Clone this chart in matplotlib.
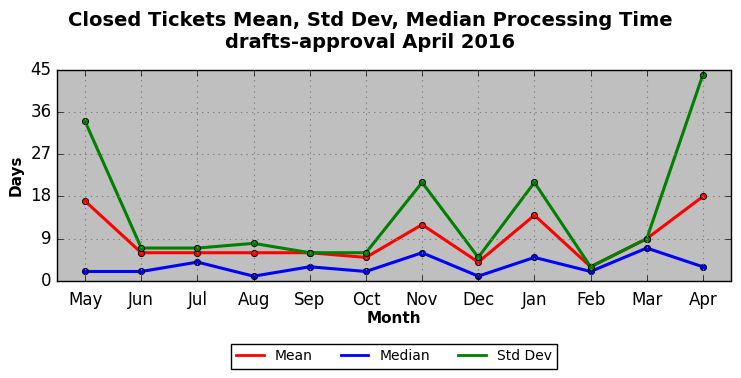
import matplotlib
matplotlib.use("Agg")
import matplotlib.pyplot as plt

months = ["May", "Jun", "Jul", "Aug", "Sep", "Oct", "Nov", "Dec", "Jan", "Feb", "Mar", "Apr"]
mean_days = [17, 6, 6, 6, 6, 5, 12, 4, 14, 3, 9, 18]
median_days = [2, 2, 4, 1, 3, 2, 6, 1, 5, 2, 7, 3]
std_days = [34, 7, 7, 8, 6, 6, 21, 5, 21, 3, 9, 44]

plt.style.use("classic")
fig = plt.figure(figsize=(7.41, 3.78), dpi=100, facecolor="white")
ax = fig.add_axes([0.077, 0.257, 0.9095, 0.558])
ax.set_facecolor("#bfbfbf")

x = list(range(len(months)))
ax.plot(x, mean_days, color="red", lw=2.2, marker="o", ms=4.5, mec="black", mew=0.6, label="Mean")
ax.plot(x, median_days, color="blue", lw=2.2, marker="o", ms=4.5, mec="black", mew=0.6, label="Median")
ax.plot(x, std_days, color="green", lw=2.2, marker="o", ms=4.5, mec="black", mew=0.6, label="Std Dev")

ax.set_xlim(-0.5, 11.5)
ax.set_ylim(0, 45)
ax.set_yticks([0, 9, 18, 27, 36, 45])
ax.set_xticks(x)
ax.set_xticklabels(months)
ax.tick_params(labelsize=12)
ax.tick_params(axis="x", pad=7)
ax.grid(True, color="gray", linestyle=":", linewidth=0.8)
for sp in ax.spines.values():
    sp.set_zorder(3)

ax.set_xlabel("Month", fontsize=11, fontweight="bold", labelpad=2)
ax.set_ylabel("Days", fontsize=11, fontweight="bold")
fig.suptitle("Closed Tickets Mean, Std Dev, Median Processing Time\ndrafts-approval April 2016",
             fontsize=14, fontweight="bold", y=0.972)

leg = ax.legend(loc="upper center", bbox_to_anchor=(0.5, -0.265), ncol=3, fontsize=10,
                frameon=True, fancybox=False, numpoints=1, markerscale=0)
for line in leg.get_lines():
    line.set_marker("")
    line.set_linewidth(2)

fig.savefig("out.png", dpi=100, facecolor="white")
